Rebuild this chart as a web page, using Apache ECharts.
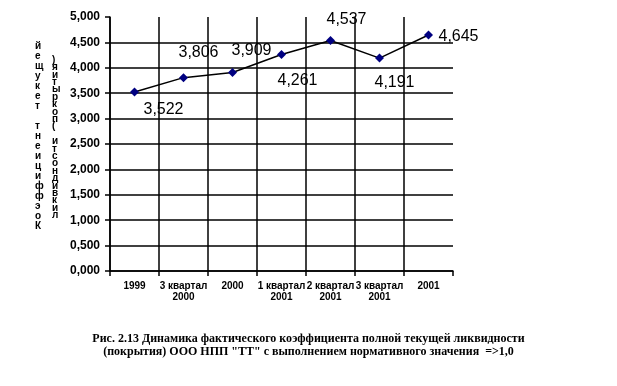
<!DOCTYPE html>
<html><head><meta charset="utf-8">
<script src="https://cdn.jsdelivr.net/npm/echarts@6/dist/echarts.min.js"></script>
<style>html,body{margin:0;padding:0;background:#fff}#c{width:617px;height:386px}</style>
</head><body><div id="c"></div>
<script>
var categories = ['1999', '3 квартал\n2000', '2000', '1 квартал\n2001', '2 квартал\n2001', '3 квартал\n2001', '2001'];
var values = [3.522, 3.806, 3.909, 4.261, 4.537, 4.191, 4.645];
var yTicks = [0, 0.5, 1, 1.5, 2, 2.5, 3, 3.5, 4, 4.5, 5];
var axisTitleCol1 = 'Коэффициент текущей';
var axisTitleCol2 = 'ликвидности (покрытия)';
var captionLines = ['Рис. 2.13 Динамика фактического коэффициента полной текущей ликвидности',
  '(покрытия) ООО НПП "ТТ" с выполнением нормативного значения  =>1,0'];

var labelOffsets = [[29, 18], [15, -25], [19, -22], [16, 26], [16, -21], [15, 24], [30, 2]];
function fmt(v) { return v.toFixed(3).replace('.', ','); }
function stack(s) { return s.split('').reverse().join('\n'); }

var chart = echarts.init(document.getElementById('c'), null, {renderer: 'canvas'});
chart.setOption({
  animation: false,
  backgroundColor: '#fff',
  grid: {left: 110, right: 164, top: 17, bottom: 115},
  xAxis: {
    type: 'category', data: categories, boundaryGap: true,
    axisLine: {lineStyle: {color: '#000', width: 1.5}},
    axisTick: {show: true, length: 5, alignWithLabel: false, lineStyle: {color: '#000', width: 1.5}},
    splitLine: {show: true, interval: 0, showMaxLine: false, lineStyle: {color: '#000', width: 1.5}},
    axisLabel: {interval: 0, color: '#000', fontFamily: 'Liberation Sans', fontWeight: 'bold', fontSize: 10, lineHeight: 11, margin: 10}
  },
  yAxis: {
    type: 'value', min: yTicks[0], max: yTicks[yTicks.length - 1], interval: yTicks[1] - yTicks[0],
    axisLine: {show: true, lineStyle: {color: '#000', width: 1.5}},
    axisTick: {show: true, length: 5, lineStyle: {color: '#000', width: 1.5}},
    splitLine: {show: true, showMaxLine: false, lineStyle: {color: '#000', width: 1.5}},
    axisLabel: {color: '#000', fontFamily: 'Liberation Sans', fontWeight: 'bold', fontSize: 12, margin: 10, formatter: fmt}
  },
  series: [{
    type: 'line',
    data: values.map(function (v, i) {
      return {value: v, label: {offset: labelOffsets[i]}};
    }),
    lineStyle: {color: '#000', width: 1.5},
    symbol: 'diamond', symbolSize: 9,
    itemStyle: {color: '#000080'},
    label: {show: true, position: 'inside', color: '#000', fontFamily: 'Liberation Sans', fontSize: 16,
      formatter: function (p) { return fmt(p.value); }}
  }],
  graphic: [
    {type: 'text', left: 35, top: 41, style: {text: stack(axisTitleCol1), fill: '#000', font: 'bold 10px "Liberation Sans"', lineHeight: 10, align: 'center'}},
    {type: 'text', left: 52, top: 55, style: {text: stack(axisTitleCol2), fill: '#000', font: 'bold 10px "Liberation Sans"', lineHeight: 7.4, align: 'center'}},
    {type: 'text', left: 'center', top: 333, style: {text: captionLines[0], fill: '#000', font: 'bold 12px "Liberation Serif"'}},
    {type: 'text', left: 'center', top: 346, style: {text: captionLines[1], fill: '#000', font: 'bold 12px "Liberation Serif"'}}
  ]
});
</script></body></html>
